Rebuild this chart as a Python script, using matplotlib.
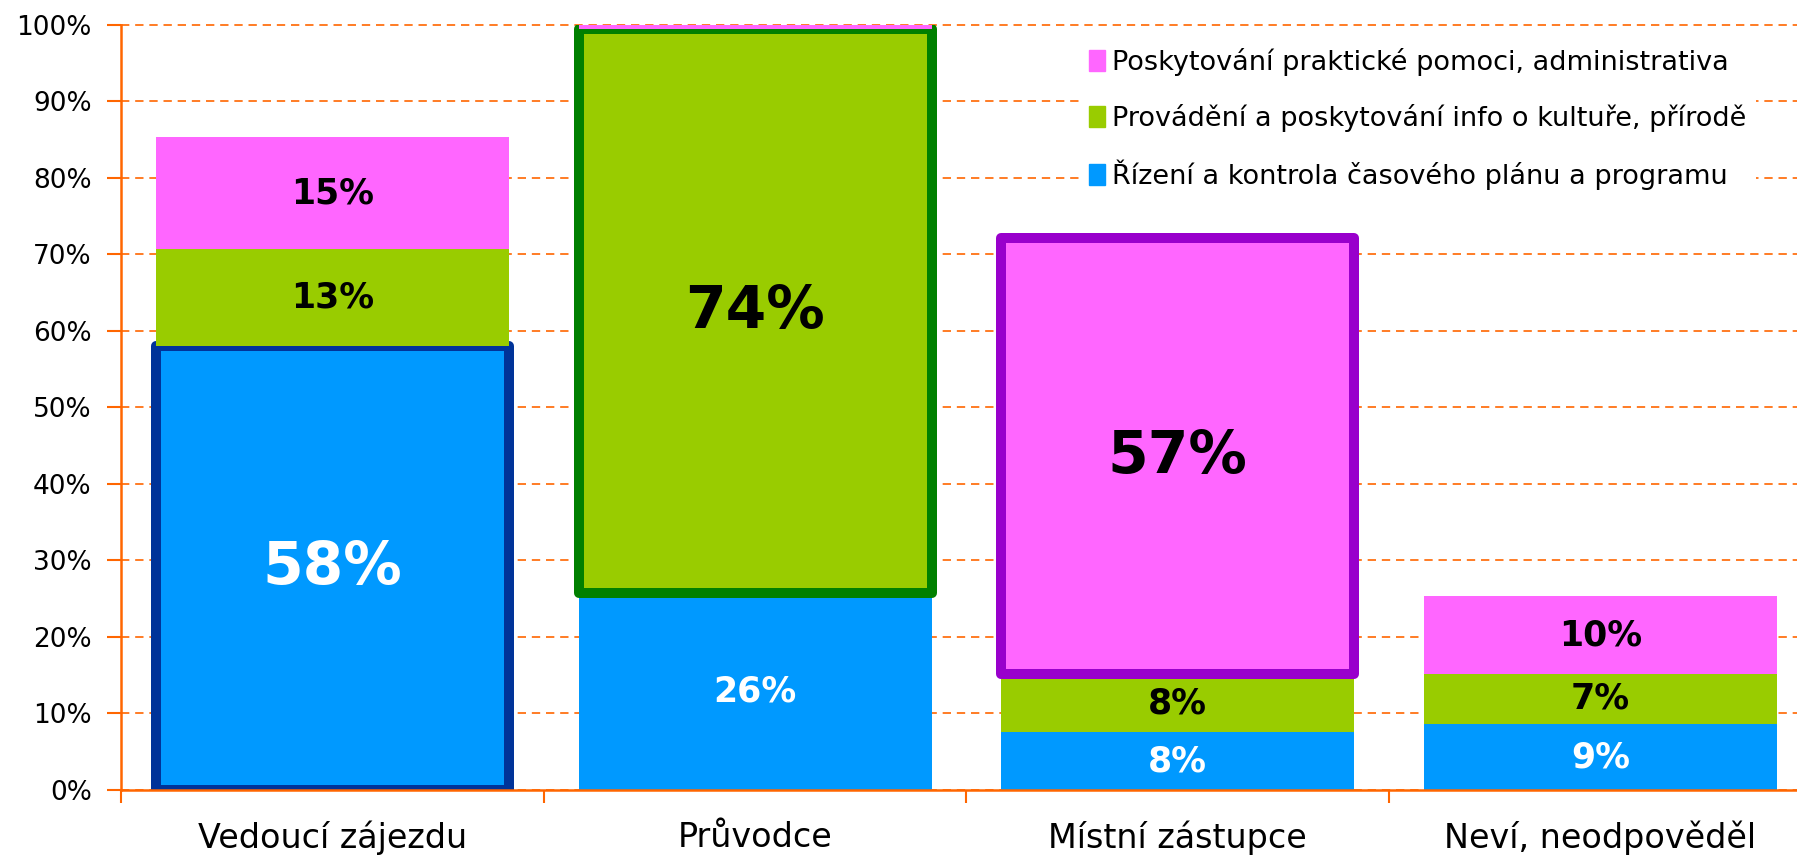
import matplotlib
matplotlib.use("Agg")
import matplotlib.pyplot as plt
import numpy as np

# data (percent of respondents)
categories = ["Vedoucí zájezdu", "Průvodce", "Místní zástupce", "Neví, neodpověděl"]
series_names = [
    "Řízení a kontrola časového plánu a programu",
    "Provádění a poskytování info o kultuře, přírodě",
    "Poskytování praktické pomoci, administrativa",
]
rizeni = [58.1, 25.7, 7.55, 8.6]
provadeni = [12.6, 73.8, 7.55, 6.6]
pomoc = [14.6, 0.5, 57.1, 10.1]
# which series is highlighted in each category (None = no highlight)
highlight = [0, 1, 2, None]

colors = ["#0099FF", "#99CC00", "#FF66FF"]
edge_colors = ["#003399", "#008000", "#9900CC"]
label_colors = ["white", "black", "black"]
orange = "#FF6600"

plt.rcParams["font.family"] = "DejaVu Sans"

fig = plt.figure(figsize=(17.97, 8.61), dpi=100)
ax = fig.add_axes([0.0673, 0.0825, 0.941, 0.8885])

x = np.arange(len(categories))
width = 0.835
bottom = np.zeros(len(categories))
handles = []
for s, vals in enumerate([rizeni, provadeni, pomoc]):
    vals = np.array(vals)
    for i in range(len(categories)):
        hl = highlight[i] == s
        ax.bar(x[i], vals[i], width, bottom=bottom[i], color=colors[s],
               edgecolor=edge_colors[s] if hl else "none",
               linewidth=7.2 if hl else 0, joinstyle="round", zorder=2 + s)
        if vals[i] >= 1:
            ax.text(x[i], bottom[i] + vals[i] / 2, f"{vals[i]:.0f}%",
                    ha="center", va="center", fontweight="bold",
                    fontsize=42 if hl else 25, color=label_colors[s], zorder=10)
    handles.append(plt.Rectangle((0, 0), 1, 1, color=colors[s]))
    bottom += vals

ax.set_xlim(-0.5, len(categories) - 0.5)
ax.set_ylim(0, 100)
ax.set_yticks(np.arange(0, 101, 10))
ax.set_yticklabels([f"{v}%" for v in range(0, 101, 10)], fontsize=19)
ax.set_xticks(x)
ax.set_xticklabels(categories, fontsize=24)
ax.set_xticks(np.arange(-0.5, len(categories), 1), minor=True)
ax.tick_params(axis="x", which="major", length=0, pad=22)
ax.tick_params(axis="x", which="minor", length=9, color=orange, width=1.5, direction="out")
ax.tick_params(axis="y", length=10, color=orange, width=1.5, pad=11)

ax.set_axisbelow(True)
ax.yaxis.grid(True, color=orange, linestyle=(0, (5, 3.5)), linewidth=1.2)
for gl in ax.get_ygridlines():
    gl.set_clip_on(False)
for side in ["top", "right"]:
    ax.spines[side].set_visible(False)
for side in ["left", "bottom"]:
    ax.spines[side].set_color(orange)
    ax.spines[side].set_linewidth(1.8)
ax.spines["bottom"].set_zorder(20)

# legend has a white box without an edge, hiding the grid behind it
leg = ax.legend(handles[::-1], series_names[::-1], loc="upper left",
                bbox_to_anchor=(0.567, 0.982), frameon=True, fontsize=19.5,
                handlelength=0.6, handleheight=0.8, handletextpad=0.25,
                labelspacing=1.02, borderaxespad=0, borderpad=0.35,
                fancybox=False, framealpha=1)
leg.get_frame().set_facecolor("white")
leg.get_frame().set_edgecolor("none")
leg.set_zorder(15)

fig.savefig("out.png", dpi=100)
